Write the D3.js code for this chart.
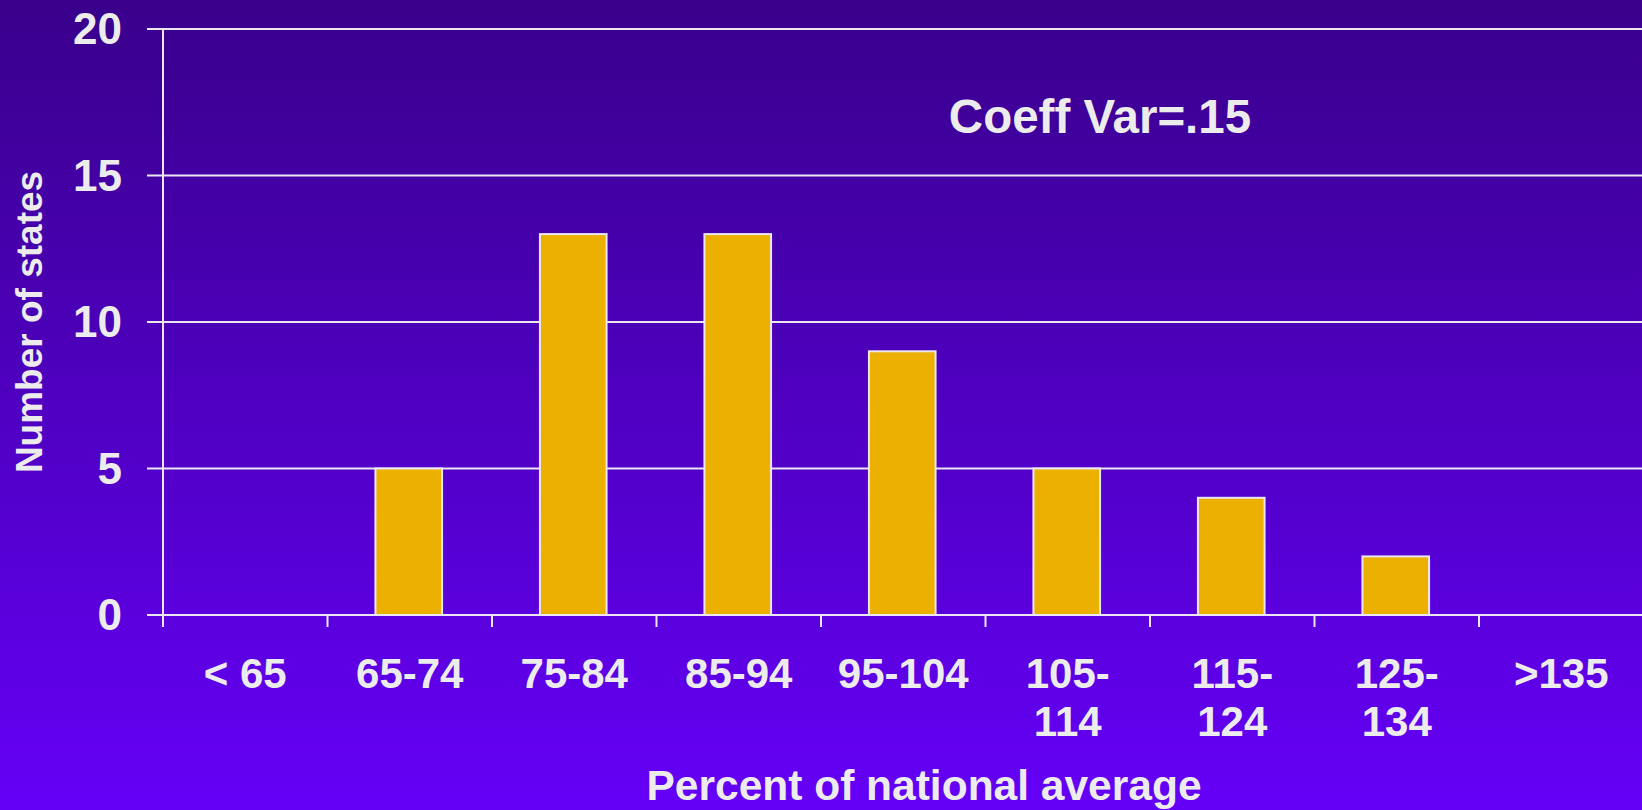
<!DOCTYPE html>
<html>
<head>
<meta charset="utf-8">
<script src="https://cdn.jsdelivr.net/npm/d3@7"></script>
<style>
  html, body { margin: 0; padding: 0; overflow: hidden; }
  svg { display: block; }
  text { font-family: "Liberation Sans", Arial, sans-serif; font-weight: bold; fill: #ececec; }
</style>
</head>
<body>
<script>
// ---- data ----
const categories = ["< 65", "65-74", "75-84", "85-94", "95-104", "105-114", "115-124", "125-134", ">135"];
const categoryLines = [["< 65"], ["65-74"], ["75-84"], ["85-94"], ["95-104"], ["105-", "114"], ["115-", "124"], ["125-", "134"], [">135"]];
const states = [0, 5, 13, 13, 9, 5, 4, 2, 0];
const yTicks = [0, 5, 10, 15, 20];
const xTitle = "Percent of national average";
const yTitle = "Number of states";
const note = "Coeff Var=.15";

(function () {
const W = 1642, H = 810;
const mLeft = 163, mRight = 1643.5, mTop = 29, mBottom = 615;

const svg = d3.select("body").append("svg").attr("width", W).attr("height", H);

const defs = svg.append("defs");
const grad = defs.append("linearGradient").attr("id", "bg").attr("x1", 0).attr("y1", 0).attr("x2", 0).attr("y2", 1);
grad.append("stop").attr("offset", "0%").attr("stop-color", "#39008b");
grad.append("stop").attr("offset", "100%").attr("stop-color", "#6500f7");
svg.append("rect").attr("width", W).attr("height", H).attr("fill", "url(#bg)");

const x = d3.scaleBand().domain(categories).range([mLeft, mRight]).padding(0);
const y = d3.scaleLinear().domain([0, 20]).range([mBottom, mTop]);

const lineColor = "#ebe6f0";

// gridlines with left ticks
svg.append("g").selectAll("line").data(yTicks).join("line")
  .attr("x1", mLeft - 16).attr("x2", W)
  .attr("y1", d => y(d)).attr("y2", d => y(d))
  .attr("stroke", lineColor).attr("stroke-width", 2);

// y labels
svg.append("g").selectAll("text").data(yTicks).join("text")
  .attr("x", 122).attr("y", d => y(d) + 15)
  .attr("text-anchor", "end").attr("font-size", 44)
  .text(d => d);

// left axis line
svg.append("line").attr("x1", mLeft).attr("x2", mLeft).attr("y1", mTop).attr("y2", mBottom + 12)
  .attr("stroke", lineColor).attr("stroke-width", 2);

// x ticks at category boundaries
const bounds = categories.slice(1).map(c => x(c));
svg.append("g").selectAll("line").data(bounds).join("line")
  .attr("x1", d => d).attr("x2", d => d)
  .attr("y1", mBottom).attr("y2", mBottom + 12)
  .attr("stroke", lineColor).attr("stroke-width", 2);

// bars
const bw = x.bandwidth() * 0.405;
svg.append("g").selectAll("rect").data(categories.map((c, i) => ({c, v: states[i]})).filter(d => d.v > 0)).join("rect")
  .attr("x", d => x(d.c) + x.bandwidth() / 2 - bw / 2 - 1)
  .attr("width", bw)
  .attr("y", d => y(d.v))
  .attr("height", d => y(0) - y(d.v))
  .attr("fill", "#ecb000")
  .attr("stroke", lineColor).attr("stroke-width", 2);

// x labels
const xl = svg.append("g").selectAll("text").data(categories).join("text")
  .attr("text-anchor", "middle").attr("font-size", 42)
  .attr("x", d => x(d) + x.bandwidth() / 2)
  .attr("y", 688);
xl.each(function(d, i) {
  const t = d3.select(this);
  categoryLines[i].forEach((ln, j) => {
    t.append("tspan").attr("x", x(d) + x.bandwidth() / 2).attr("y", 688 + j * 48).text(ln);
  });
});

// axis titles
svg.append("text").attr("x", 924).attr("y", 800).attr("text-anchor", "middle").attr("font-size", 42.5).text(xTitle);
svg.append("text").attr("transform", `translate(42,${(mTop + mBottom) / 2}) rotate(-90)`)
  .attr("text-anchor", "middle").attr("font-size", 37).text(yTitle);

// note
svg.append("text").attr("x", 1100).attr("y", 133).attr("text-anchor", "middle").attr("font-size", 47.5).text(note);
})();
</script>
</body>
</html>
